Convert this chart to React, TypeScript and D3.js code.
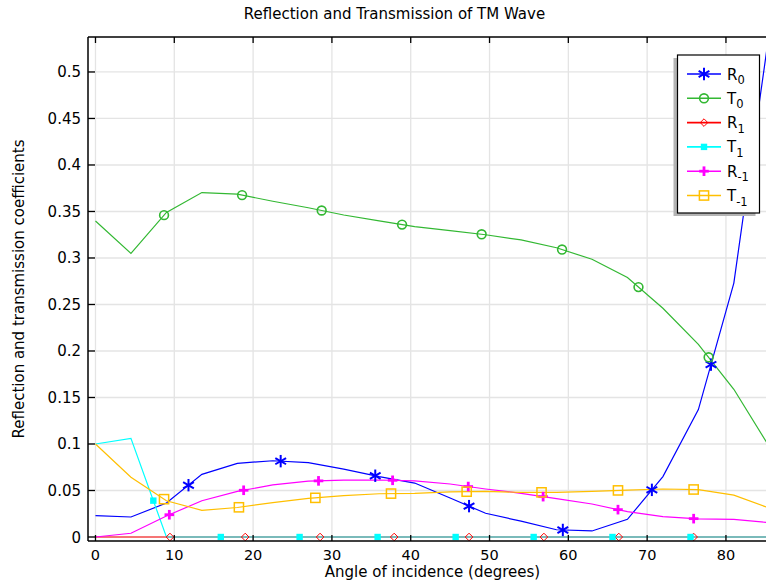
import React from "react";
import * as d3 from "d3";

// ---- data (angle of incidence, degrees) ----
const angles = [0, 4.5, 9, 13.5, 18, 22.5, 27, 31.5, 36, 40.5, 45, 49.5, 54, 58.5, 63, 67.5, 72, 76.5, 81, 85.5];
const R0 = [0.0229, 0.0215, 0.0365, 0.0674, 0.0792, 0.082, 0.08, 0.073, 0.065, 0.058, 0.042, 0.0255, 0.017, 0.0078, 0.0065, 0.019, 0.065, 0.137, 0.273, 0.543];
const T0 = [0.3398, 0.305, 0.349, 0.3703, 0.3686, 0.361, 0.354, 0.3462, 0.3398, 0.3337, 0.3294, 0.325, 0.3194, 0.311, 0.2986, 0.279, 0.2459, 0.2072, 0.1588, 0.097];
const R1 = [0, 0, 0, 0, 0, 0, 0, 0, 0, 0, 0, 0, 0, 0, 0, 0, 0, 0, 0, 0];
const T1 = [0.1, 0.106, 0, 0, 0, 0, 0, 0, 0, 0, 0, 0, 0, 0, 0, 0, 0, 0, 0, 0];
const Rm1 = [0, 0.004, 0.0226, 0.039, 0.049, 0.056, 0.06, 0.0612, 0.0613, 0.0604, 0.057, 0.0516, 0.047, 0.0412, 0.0355, 0.0272, 0.0219, 0.0194, 0.019, 0.0154];
const Tm1 = [0.1, 0.0642, 0.039, 0.0287, 0.0317, 0.037, 0.0415, 0.0445, 0.0465, 0.047, 0.0485, 0.049, 0.048, 0.048, 0.049, 0.0505, 0.0516, 0.051, 0.045, 0.031];

// marker positions along each curve (angle values)
const markR0 = [11.8, 23.5, 35.5, 47.4, 59.3, 70.6, 78.1];
const markT0 = [8.7, 18.6, 28.7, 38.9, 49.0, 59.2, 68.9, 77.8];
const markR1 = [9.45, 19.0, 28.5, 37.9, 47.4, 56.9, 66.4, 75.9];
const markT1 = [7.34, 15.9, 25.9, 35.8, 45.7, 55.6, 65.6, 75.5];
const markRm1 = [9.37, 18.8, 28.3, 37.7, 47.3, 56.8, 66.3, 75.9];
const markTm1 = [8.7, 18.2, 27.9, 37.5, 47.1, 56.6, 66.3, 75.9];

const xTicks = [0, 10, 20, 30, 40, 50, 60, 70, 80];
const yTicks = [0, 0.05, 0.1, 0.15, 0.2, 0.25, 0.3, 0.35, 0.4, 0.45, 0.5];
const yTickLabels = ["0", "0.05", "0.1", "0.15", "0.2", "0.25", "0.3", "0.35", "0.4", "0.45", "0.5"];

const seriesNames = ["R", "T", "R", "T", "R", "T"];
const seriesSubs = ["0", "0", "1", "1", "-1", "-1"];

const title = "Reflection and Transmission of TM Wave";
const xLabel = "Angle of incidence (degrees)";
const yLabel = "Reflection and transmission coefficients";

type Kind = "star" | "circle" | "diamond" | "fsquare" | "plus" | "square";

const series = [
  { values: R0, marks: markR0, color: "#0000ff", kind: "star" as Kind },
  { values: T0, marks: markT0, color: "#33b833", kind: "circle" as Kind },
  { values: R1, marks: markR1, color: "#ff0000", kind: "diamond" as Kind },
  { values: T1, marks: markT1, color: "#00ffff", kind: "fsquare" as Kind },
  { values: Rm1, marks: markRm1, color: "#ff00ff", kind: "plus" as Kind },
  { values: Tm1, marks: markTm1, color: "#ffbf00", kind: "square" as Kind },
];

const W = 766;
const H = 585;
const left = 88;
const right = 769.3;
const top = 37;
const bottom = 541;
const FONT = "'DejaVu Sans', Verdana, sans-serif";

function Marker({ kind, x, y, color }: { kind: Kind; x: number; y: number; color: string }) {
  switch (kind) {
    case "star": {
      const r = 6.2;
      const dx = r * Math.cos(Math.PI / 6);
      const dy = r * Math.sin(Math.PI / 6);
      return (
        <g stroke={color} strokeWidth={2}>
          <line x1={x} y1={y - r} x2={x} y2={y + r} />
          <line x1={x - dx} y1={y - dy} x2={x + dx} y2={y + dy} />
          <line x1={x - dx} y1={y + dy} x2={x + dx} y2={y - dy} />
        </g>
      );
    }
    case "circle":
      return <circle cx={x} cy={y} r={4.4} fill="none" stroke={color} strokeWidth={1.6} />;
    case "diamond": {
      const s = 3.8;
      return (
        <path d={`M${x},${y - s}L${x + s},${y}L${x},${y + s}L${x - s},${y}Z`} fill="none" stroke={color} strokeWidth={1} />
      );
    }
    case "fsquare":
      return <rect x={x - 3.2} y={y - 3.2} width={6.4} height={6.4} fill={color} />;
    case "plus":
      return (
        <g stroke={color} strokeWidth={2.8}>
          <line x1={x - 4.8} y1={y} x2={x + 4.8} y2={y} />
          <line x1={x} y1={y - 4.8} x2={x} y2={y + 4.8} />
        </g>
      );
    case "square":
      return <rect x={x - 4.6} y={y - 4.6} width={9.2} height={9.2} fill="none" stroke={color} strokeWidth={1.5} />;
  }
  return null;
}

export default function App() {
  const x = d3.scaleLinear().domain([-0.95, 85.5]).range([left, right]);
  const y = d3.scaleLinear().domain([-0.0043, 0.5376]).range([bottom, top]);

  const line = d3
    .line<number>()
    .x((_, i) => x(angles[i]))
    .y((d) => y(d));

  const legX = 677.5;
  const legY = 55;
  const legW = 82;
  const legH = 158;
  const legStep = 24.3;

  return (
    <svg
      width={W}
      height={H}
      style={{ position: "absolute", left: 0, top: 0, background: "#fff" }}
      fontFamily={FONT}
    >
      <defs>
        <clipPath id="plotclip">
          <rect x={left} y={top} width={right - left} height={bottom - top} />
        </clipPath>
      </defs>
      <rect x={0} y={0} width={W} height={H} fill="#fff" />

      {/* grid */}
      <g stroke="#e4e4e4" strokeWidth={1.3}>
        {xTicks.map((t) => (
          <line key={"gx" + t} x1={x(t)} x2={x(t)} y1={top} y2={bottom} />
        ))}
        {yTicks.map((t) => (
          <line key={"gy" + t} x1={left} x2={right} y1={y(t)} y2={y(t)} />
        ))}
      </g>

      {/* lines */}
      <g clipPath="url(#plotclip)">
        {series.map((s, i) => (
          <path key={"l" + i} d={line(s.values) || ""} fill="none" stroke={s.color} strokeWidth={1.2} />
        ))}
        {series.map((s, i) => {
          const interp = d3.scaleLinear<number>().domain(angles).range(s.values);
          return (
            <g key={"m" + i}>
              {s.marks.map((a, j) => (
                <Marker key={j} kind={s.kind} x={x(a)} y={y(interp(a))} color={s.color} />
              ))}
            </g>
          );
        })}
      </g>

      {/* axes */}
      <g stroke="#000" strokeWidth={1.5} fill="none">
        <line x1={left} x2={left} y1={top} y2={bottom} />
        <line x1={left} x2={W} y1={bottom} y2={bottom} />
        <line x1={left} x2={W} y1={top} y2={top} />
      </g>
      <g stroke="#000" strokeWidth={1.3}>
        {xTicks.map((t) => (
          <g key={"tx" + t}>
            <line x1={x(t)} x2={x(t)} y1={bottom} y2={bottom - 6} />
            <line x1={x(t)} x2={x(t)} y1={top} y2={top + 6} />
          </g>
        ))}
        {yTicks.map((t) => (
          <line key={"ty" + t} x1={left} x2={left + 7} y1={y(t)} y2={y(t)} />
        ))}
      </g>
      <g fontSize={14.5} fill="#000">
        {xTicks.map((t) => (
          <text key={"xl" + t} x={x(t)} y={560} textAnchor="middle">
            {String(t)}
          </text>
        ))}
      </g>
      <g fontSize={15} fill="#000">
        {yTicks.map((t, i) => (
          <text key={"yl" + t} x={81} y={y(t) + 5.5} textAnchor="end">
            {yTickLabels[i]}
          </text>
        ))}
      </g>

      {/* titles */}
      <text x={394.5} y={18.5} textAnchor="middle" fontSize={15}>
        {title}
      </text>
      <text x={432.5} y={577} textAnchor="middle" fontSize={15}>
        {xLabel}
      </text>
      <text transform={`translate(23.5,289) rotate(-90)`} textAnchor="middle" fontSize={15}>
        {yLabel}
      </text>

      {/* legend */}
      <rect x={legX - 4} y={legY + 3} width={legW} height={legH} fill="#b4b4b4" />
      <rect x={legX} y={legY} width={legW} height={legH} fill="#fff" stroke="#000" strokeWidth={1.2} />
      {series.map((s, i) => {
        const cy = legY + 19 + i * legStep;
        return (
          <g key={"lg" + i}>
            <line x1={legX + 9.5} x2={legX + 43.5} y1={cy} y2={cy} stroke={s.color} strokeWidth={1.6} />
            <Marker kind={s.kind} x={legX + 26.5} y={cy} color={s.color} />
            <text x={legX + 49.5} y={cy + 5.5} fontSize={15}>
              {seriesNames[i]}
              <tspan dy={4.5} fontSize={11.5}>
                {seriesSubs[i]}
              </tspan>
            </text>
          </g>
        );
      })}
    </svg>
  );
}
